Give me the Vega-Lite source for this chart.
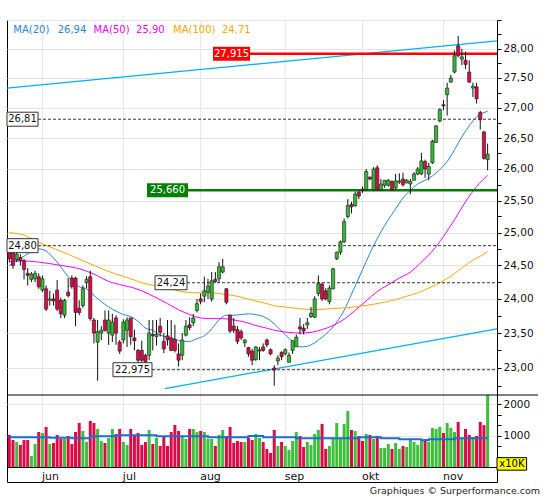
{
"$schema":"https://vega.github.io/schema/vega-lite/v6.json",
"width":490,"height":462,
"autosize":{"type":"none"},
"padding":{"left":7,"top":20,"right":48,"bottom":18},
"background":"#ffffff",
"config":{"view":{"stroke":"#000000","strokeWidth":1,"fill":"#ffffff"},"font":"DejaVu Sans","text":{"font":"DejaVu Sans"},"axis":{"labelFont":"DejaVu Sans","labelColor":"#111111","tickColor":"#000000","domain":false},"scale":{"continuousPadding":0}},
"datasets":{
"candles":[
{"i":0,"o":24.72,"h":24.8,"l":24.55,"c":24.6,"v":1016},
{"i":1,"o":24.69,"h":24.75,"l":24.45,"c":24.5,"v":857},
{"i":2,"o":24.59,"h":24.72,"l":24.55,"c":24.67,"v":794},
{"i":3,"o":24.62,"h":24.67,"l":24.5,"c":24.57,"v":699},
{"i":4,"o":24.57,"h":24.6,"l":24.29,"c":24.44,"v":857},
{"i":5,"o":24.38,"h":24.46,"l":24.2,"c":24.35,"v":857},
{"i":6,"o":24.29,"h":24.4,"l":24.25,"c":24.37,"v":349},
{"i":7,"o":24.3,"h":24.42,"l":24.25,"c":24.38,"v":730},
{"i":8,"o":24.33,"h":24.38,"l":24.15,"c":24.18,"v":1111},
{"i":9,"o":24.13,"h":24.35,"l":24.1,"c":24.3,"v":1080},
{"i":10,"o":24.15,"h":24.2,"l":23.82,"c":23.85,"v":1270},
{"i":11,"o":23.98,"h":24.12,"l":23.9,"c":24.0,"v":730},
{"i":12,"o":24.0,"h":24.08,"l":23.9,"c":23.97,"v":762},
{"i":13,"o":24.13,"h":24.28,"l":23.82,"c":23.85,"v":1016},
{"i":14,"o":23.98,"h":24.02,"l":23.72,"c":23.78,"v":889},
{"i":15,"o":23.76,"h":24.0,"l":23.72,"c":23.98,"v":889},
{"i":16,"o":24.1,"h":24.31,"l":24.02,"c":24.05,"v":984},
{"i":17,"o":24.31,"h":24.35,"l":24.15,"c":24.18,"v":730},
{"i":18,"o":24.31,"h":24.33,"l":23.6,"c":23.8,"v":1111},
{"i":19,"o":23.86,"h":23.98,"l":23.76,"c":23.8,"v":1397},
{"i":20,"o":23.9,"h":24.2,"l":23.87,"c":24.15,"v":1143},
{"i":21,"o":24.24,"h":24.34,"l":24.16,"c":24.29,"v":794},
{"i":22,"o":24.33,"h":24.42,"l":23.68,"c":23.71,"v":1461},
{"i":23,"o":23.69,"h":23.72,"l":23.35,"c":23.5,"v":1397},
{"i":24,"o":23.37,"h":23.69,"l":22.82,"c":23.52,"v":1207},
{"i":25,"o":23.5,"h":23.6,"l":23.4,"c":23.54,"v":826},
{"i":26,"o":23.69,"h":23.83,"l":23.52,"c":23.54,"v":762},
{"i":27,"o":23.5,"h":23.83,"l":23.33,"c":23.69,"v":921},
{"i":28,"o":23.47,"h":23.78,"l":23.37,"c":23.66,"v":1207},
{"i":29,"o":23.72,"h":23.76,"l":23.33,"c":23.5,"v":1048},
{"i":30,"o":23.37,"h":23.4,"l":23.2,"c":23.24,"v":1207},
{"i":31,"o":23.4,"h":23.7,"l":23.35,"c":23.66,"v":794},
{"i":32,"o":23.54,"h":23.73,"l":23.3,"c":23.69,"v":699},
{"i":33,"o":23.72,"h":23.72,"l":23.33,"c":23.45,"v":1207},
{"i":34,"o":23.43,"h":23.55,"l":23.25,"c":23.39,"v":1016},
{"i":35,"o":23.25,"h":23.27,"l":23.08,"c":23.11,"v":1080},
{"i":36,"o":23.25,"h":23.39,"l":23.08,"c":23.11,"v":699},
{"i":37,"o":23.18,"h":23.2,"l":23.05,"c":23.09,"v":794},
{"i":38,"o":23.18,"h":23.69,"l":23.11,"c":23.5,"v":1175},
{"i":39,"o":23.48,"h":23.69,"l":23.25,"c":23.46,"v":730},
{"i":40,"o":23.45,"h":23.69,"l":23.32,"c":23.48,"v":921},
{"i":41,"o":23.6,"h":23.72,"l":23.45,"c":23.51,"v":667},
{"i":42,"o":23.38,"h":23.5,"l":23.21,"c":23.27,"v":984},
{"i":43,"o":23.46,"h":23.69,"l":23.32,"c":23.4,"v":667},
{"i":44,"o":23.43,"h":23.69,"l":23.24,"c":23.25,"v":1111},
{"i":45,"o":23.41,"h":23.62,"l":23.22,"c":23.25,"v":1334},
{"i":46,"o":23.2,"h":23.35,"l":23.02,"c":23.11,"v":1143},
{"i":47,"o":23.18,"h":23.5,"l":23.11,"c":23.4,"v":984},
{"i":48,"o":23.47,"h":23.69,"l":23.45,"c":23.6,"v":889},
{"i":49,"o":23.62,"h":23.73,"l":23.54,"c":23.58,"v":1207},
{"i":50,"o":23.65,"h":23.78,"l":23.6,"c":23.72,"v":1207},
{"i":51,"o":23.83,"h":24.0,"l":23.8,"c":23.93,"v":1111},
{"i":52,"o":24.0,"h":24.08,"l":23.92,"c":23.96,"v":1143},
{"i":53,"o":24.04,"h":24.33,"l":23.95,"c":24.12,"v":1111},
{"i":54,"o":24.1,"h":24.3,"l":24.0,"c":24.19,"v":889},
{"i":55,"o":24.0,"h":24.4,"l":23.96,"c":24.27,"v":889},
{"i":56,"o":24.29,"h":24.4,"l":24.24,"c":24.26,"v":667},
{"i":57,"o":24.3,"h":24.55,"l":24.24,"c":24.48,"v":1016},
{"i":58,"o":24.4,"h":24.6,"l":24.38,"c":24.48,"v":1175},
{"i":59,"o":24.15,"h":24.16,"l":23.92,"c":23.95,"v":984},
{"i":60,"o":23.76,"h":23.77,"l":23.5,"c":23.53,"v":1270},
{"i":61,"o":23.6,"h":23.72,"l":23.5,"c":23.54,"v":762},
{"i":62,"o":23.55,"h":23.6,"l":23.34,"c":23.38,"v":826},
{"i":63,"o":23.52,"h":23.55,"l":23.4,"c":23.43,"v":794},
{"i":64,"o":23.36,"h":23.41,"l":23.3,"c":23.4,"v":794},
{"i":65,"o":23.29,"h":23.3,"l":23.16,"c":23.2,"v":921},
{"i":66,"o":23.24,"h":23.27,"l":23.04,"c":23.11,"v":857},
{"i":67,"o":23.12,"h":23.31,"l":23.1,"c":23.3,"v":1048},
{"i":68,"o":23.24,"h":23.3,"l":23.11,"c":23.26,"v":921},
{"i":69,"o":23.3,"h":23.35,"l":23.23,"c":23.25,"v":794},
{"i":70,"o":23.4,"h":23.42,"l":23.3,"c":23.33,"v":572},
{"i":71,"o":23.26,"h":23.28,"l":23.18,"c":23.2,"v":445},
{"i":72,"o":23.0,"h":23.04,"l":22.75,"c":22.97,"v":1175},
{"i":73,"o":23.1,"h":23.18,"l":23.04,"c":23.14,"v":667},
{"i":74,"o":23.22,"h":23.24,"l":23.11,"c":23.16,"v":794},
{"i":75,"o":23.2,"h":23.28,"l":23.18,"c":23.26,"v":667},
{"i":76,"o":23.08,"h":23.22,"l":23.08,"c":23.18,"v":540},
{"i":77,"o":23.25,"h":23.39,"l":23.2,"c":23.39,"v":826},
{"i":78,"o":23.3,"h":23.48,"l":23.3,"c":23.44,"v":1111},
{"i":79,"o":23.59,"h":23.72,"l":23.48,"c":23.56,"v":984},
{"i":80,"o":23.57,"h":23.63,"l":23.48,"c":23.53,"v":635},
{"i":81,"o":23.62,"h":23.72,"l":23.56,"c":23.65,"v":794},
{"i":82,"o":23.74,"h":23.88,"l":23.72,"c":23.79,"v":699},
{"i":83,"o":23.73,"h":24.04,"l":23.72,"c":24.0,"v":1048},
{"i":84,"o":24.08,"h":24.35,"l":24.04,"c":24.23,"v":1175},
{"i":85,"o":24.22,"h":24.24,"l":23.97,"c":24.0,"v":1365},
{"i":86,"o":24.12,"h":24.16,"l":23.98,"c":24.0,"v":572},
{"i":87,"o":23.96,"h":24.2,"l":23.92,"c":24.16,"v":667},
{"i":88,"o":24.15,"h":24.46,"l":24.14,"c":24.45,"v":889},
{"i":89,"o":24.6,"h":24.71,"l":24.58,"c":24.7,"v":1397},
{"i":90,"o":24.7,"h":24.88,"l":24.66,"c":24.86,"v":921},
{"i":91,"o":24.86,"h":25.22,"l":24.84,"c":25.17,"v":1365},
{"i":92,"o":25.25,"h":25.52,"l":25.22,"c":25.42,"v":1778},
{"i":93,"o":25.44,"h":25.48,"l":25.3,"c":25.4,"v":1175},
{"i":94,"o":25.42,"h":25.64,"l":25.4,"c":25.6,"v":1143},
{"i":95,"o":25.63,"h":25.66,"l":25.52,"c":25.57,"v":984},
{"i":96,"o":25.68,"h":25.72,"l":25.62,"c":25.66,"v":826},
{"i":97,"o":25.67,"h":26.0,"l":25.65,"c":25.96,"v":1048},
{"i":98,"o":25.87,"h":25.88,"l":25.82,"c":25.84,"v":1016},
{"i":99,"o":25.67,"h":26.03,"l":25.65,"c":26.0,"v":889},
{"i":100,"o":26.02,"h":26.06,"l":25.66,"c":25.67,"v":984},
{"i":101,"o":25.67,"h":25.84,"l":25.65,"c":25.76,"v":603},
{"i":102,"o":25.74,"h":25.82,"l":25.7,"c":25.82,"v":603},
{"i":103,"o":25.74,"h":25.84,"l":25.72,"c":25.82,"v":730},
{"i":104,"o":25.8,"h":25.82,"l":25.65,"c":25.67,"v":572},
{"i":105,"o":25.7,"h":25.92,"l":25.67,"c":25.81,"v":762},
{"i":106,"o":25.79,"h":25.93,"l":25.76,"c":25.81,"v":572},
{"i":107,"o":25.84,"h":25.94,"l":25.72,"c":25.75,"v":667},
{"i":108,"o":25.78,"h":25.84,"l":25.77,"c":25.82,"v":635},
{"i":109,"o":25.76,"h":25.84,"l":25.6,"c":25.8,"v":889},
{"i":110,"o":25.82,"h":25.95,"l":25.82,"c":25.92,"v":794},
{"i":111,"o":25.92,"h":26.03,"l":25.9,"c":26.0,"v":699},
{"i":112,"o":25.92,"h":26.26,"l":25.9,"c":26.13,"v":826},
{"i":113,"o":26.12,"h":26.15,"l":25.86,"c":26.0,"v":889},
{"i":114,"o":25.92,"h":26.1,"l":25.82,"c":26.04,"v":794},
{"i":115,"o":26.1,"h":26.47,"l":26.08,"c":26.45,"v":1238},
{"i":116,"o":26.43,"h":26.71,"l":26.42,"c":26.7,"v":1207},
{"i":117,"o":26.78,"h":26.99,"l":26.76,"c":26.97,"v":1270},
{"i":118,"o":27.05,"h":27.13,"l":26.96,"c":27.03,"v":1080},
{"i":119,"o":27.22,"h":27.42,"l":26.87,"c":27.33,"v":1397},
{"i":120,"o":27.43,"h":27.55,"l":27.42,"c":27.5,"v":1238},
{"i":121,"o":27.6,"h":27.97,"l":27.58,"c":27.88,"v":1111},
{"i":122,"o":28.05,"h":28.22,"l":27.85,"c":27.88,"v":1429},
{"i":123,"o":27.82,"h":28.0,"l":27.72,"c":27.86,"v":921},
{"i":124,"o":27.8,"h":27.95,"l":27.65,"c":27.73,"v":1207},
{"i":125,"o":27.6,"h":27.8,"l":27.42,"c":27.43,"v":1016},
{"i":126,"o":27.33,"h":27.42,"l":27.18,"c":27.36,"v":952},
{"i":127,"o":27.35,"h":27.42,"l":27.07,"c":27.15,"v":984},
{"i":128,"o":26.92,"h":26.95,"l":26.64,"c":26.8,"v":1429},
{"i":129,"o":26.6,"h":26.62,"l":26.15,"c":26.17,"v":1330},
{"i":130,"o":26.15,"h":26.41,"l":25.98,"c":26.24,"v":2286}
],
"ma":[
{"i":0,"v":24.5,"ma":"MA20"},{"i":2,"v":24.58,"ma":"MA20"},{"i":4,"v":24.64,"ma":"MA20"},{"i":6,"v":24.71,"ma":"MA20"},{"i":8,"v":24.75,"ma":"MA20"},{"i":10,"v":24.72,"ma":"MA20"},{"i":11,"v":24.67,"ma":"MA20"},{"i":13,"v":24.55,"ma":"MA20"},{"i":15,"v":24.4,"ma":"MA20"},{"i":17,"v":24.27,"ma":"MA20"},{"i":19,"v":24.18,"ma":"MA20"},{"i":21,"v":24.15,"ma":"MA20"},{"i":23,"v":24.05,"ma":"MA20"},{"i":25,"v":23.96,"ma":"MA20"},{"i":27,"v":23.88,"ma":"MA20"},{"i":29,"v":23.82,"ma":"MA20"},{"i":31,"v":23.77,"ma":"MA20"},{"i":33,"v":23.74,"ma":"MA20"},{"i":35,"v":23.67,"ma":"MA20"},{"i":37,"v":23.57,"ma":"MA20"},{"i":39,"v":23.54,"ma":"MA20"},{"i":41,"v":23.47,"ma":"MA20"},{"i":43,"v":23.44,"ma":"MA20"},{"i":45,"v":23.41,"ma":"MA20"},{"i":47,"v":23.38,"ma":"MA20"},{"i":49,"v":23.38,"ma":"MA20"},{"i":51,"v":23.42,"ma":"MA20"},{"i":53,"v":23.46,"ma":"MA20"},{"i":55,"v":23.56,"ma":"MA20"},{"i":57,"v":23.69,"ma":"MA20"},{"i":59,"v":23.76,"ma":"MA20"},{"i":61,"v":23.76,"ma":"MA20"},{"i":63,"v":23.77,"ma":"MA20"},{"i":65,"v":23.78,"ma":"MA20"},{"i":67,"v":23.77,"ma":"MA20"},{"i":69,"v":23.74,"ma":"MA20"},{"i":71,"v":23.68,"ma":"MA20"},{"i":73,"v":23.58,"ma":"MA20"},{"i":75,"v":23.48,"ma":"MA20"},{"i":77,"v":23.37,"ma":"MA20"},{"i":79,"v":23.3,"ma":"MA20"},{"i":81,"v":23.31,"ma":"MA20"},{"i":83,"v":23.36,"ma":"MA20"},{"i":85,"v":23.44,"ma":"MA20"},{"i":87,"v":23.53,"ma":"MA20"},{"i":89,"v":23.66,"ma":"MA20"},{"i":91,"v":23.83,"ma":"MA20"},{"i":93,"v":24.07,"ma":"MA20"},{"i":95,"v":24.31,"ma":"MA20"},{"i":97,"v":24.56,"ma":"MA20"},{"i":99,"v":24.8,"ma":"MA20"},{"i":101,"v":25.01,"ma":"MA20"},{"i":103,"v":25.2,"ma":"MA20"},{"i":105,"v":25.37,"ma":"MA20"},{"i":107,"v":25.54,"ma":"MA20"},{"i":109,"v":25.66,"ma":"MA20"},{"i":111,"v":25.76,"ma":"MA20"},{"i":113,"v":25.82,"ma":"MA20"},{"i":115,"v":25.89,"ma":"MA20"},{"i":117,"v":25.99,"ma":"MA20"},{"i":119,"v":26.12,"ma":"MA20"},{"i":121,"v":26.31,"ma":"MA20"},{"i":123,"v":26.52,"ma":"MA20"},{"i":125,"v":26.7,"ma":"MA20"},{"i":127,"v":26.85,"ma":"MA20"},{"i":129,"v":26.92,"ma":"MA20"},{"i":130,"v":26.94,"ma":"MA20"},
{"i":0,"v":24.55,"ma":"MA50"},{"i":3,"v":24.57,"ma":"MA50"},{"i":8,"v":24.55,"ma":"MA50"},{"i":14,"v":24.5,"ma":"MA50"},{"i":19,"v":24.45,"ma":"MA50"},{"i":23,"v":24.37,"ma":"MA50"},{"i":27,"v":24.26,"ma":"MA50"},{"i":31,"v":24.2,"ma":"MA50"},{"i":34,"v":24.16,"ma":"MA50"},{"i":38,"v":24.07,"ma":"MA50"},{"i":43,"v":23.93,"ma":"MA50"},{"i":46,"v":23.84,"ma":"MA50"},{"i":49,"v":23.77,"ma":"MA50"},{"i":52,"v":23.72,"ma":"MA50"},{"i":55,"v":23.71,"ma":"MA50"},{"i":58,"v":23.71,"ma":"MA50"},{"i":61,"v":23.69,"ma":"MA50"},{"i":64,"v":23.66,"ma":"MA50"},{"i":67,"v":23.61,"ma":"MA50"},{"i":70,"v":23.57,"ma":"MA50"},{"i":73,"v":23.53,"ma":"MA50"},{"i":76,"v":23.51,"ma":"MA50"},{"i":79,"v":23.5,"ma":"MA50"},{"i":82,"v":23.51,"ma":"MA50"},{"i":85,"v":23.55,"ma":"MA50"},{"i":88,"v":23.61,"ma":"MA50"},{"i":91,"v":23.7,"ma":"MA50"},{"i":94,"v":23.83,"ma":"MA50"},{"i":97,"v":23.97,"ma":"MA50"},{"i":100,"v":24.11,"ma":"MA50"},{"i":103,"v":24.21,"ma":"MA50"},{"i":106,"v":24.31,"ma":"MA50"},{"i":109,"v":24.4,"ma":"MA50"},{"i":112,"v":24.55,"ma":"MA50"},{"i":115,"v":24.72,"ma":"MA50"},{"i":118,"v":24.94,"ma":"MA50"},{"i":121,"v":25.2,"ma":"MA50"},{"i":124,"v":25.48,"ma":"MA50"},{"i":127,"v":25.72,"ma":"MA50"},{"i":130,"v":25.9,"ma":"MA50"},
{"i":0,"v":25.0,"ma":"MA100"},{"i":4,"v":24.96,"ma":"MA100"},{"i":8,"v":24.85,"ma":"MA100"},{"i":12,"v":24.76,"ma":"MA100"},{"i":16,"v":24.67,"ma":"MA100"},{"i":20,"v":24.57,"ma":"MA100"},{"i":23,"v":24.5,"ma":"MA100"},{"i":26,"v":24.43,"ma":"MA100"},{"i":29,"v":24.37,"ma":"MA100"},{"i":33,"v":24.3,"ma":"MA100"},{"i":36,"v":24.24,"ma":"MA100"},{"i":40,"v":24.19,"ma":"MA100"},{"i":43,"v":24.16,"ma":"MA100"},{"i":48,"v":24.1,"ma":"MA100"},{"i":52,"v":24.09,"ma":"MA100"},{"i":55,"v":24.09,"ma":"MA100"},{"i":58,"v":24.07,"ma":"MA100"},{"i":61,"v":24.05,"ma":"MA100"},{"i":64,"v":24.01,"ma":"MA100"},{"i":67,"v":23.97,"ma":"MA100"},{"i":70,"v":23.93,"ma":"MA100"},{"i":72,"v":23.9,"ma":"MA100"},{"i":75,"v":23.88,"ma":"MA100"},{"i":78,"v":23.86,"ma":"MA100"},{"i":83,"v":23.84,"ma":"MA100"},{"i":88,"v":23.86,"ma":"MA100"},{"i":92,"v":23.87,"ma":"MA100"},{"i":95,"v":23.89,"ma":"MA100"},{"i":99,"v":23.92,"ma":"MA100"},{"i":102,"v":23.95,"ma":"MA100"},{"i":105,"v":23.99,"ma":"MA100"},{"i":108,"v":24.04,"ma":"MA100"},{"i":111,"v":24.09,"ma":"MA100"},{"i":114,"v":24.16,"ma":"MA100"},{"i":117,"v":24.24,"ma":"MA100"},{"i":120,"v":24.34,"ma":"MA100"},{"i":123,"v":24.46,"ma":"MA100"},{"i":126,"v":24.58,"ma":"MA100"},{"i":128,"v":24.64,"ma":"MA100"},{"i":130,"v":24.71,"ma":"MA100"}
],
"vma":[{"i":0,"v":942},{"i":11,"v":931},{"i":17,"v":910},{"i":22,"v":974},{"i":29,"v":1005},{"i":40,"v":974},{"i":54,"v":942},{"i":65,"v":984},{"i":69,"v":942},{"i":78,"v":910},{"i":95,"v":942},{"i":101,"v":910},{"i":106,"v":878},{"i":112,"v":847},{"i":114,"v":878},{"i":121,"v":910},{"i":130,"v":910}],
"months":[{"i":9},{"i":31},{"i":52},{"i":75},{"i":96},{"i":118}],
"trends":[{"t":"up","i":-0.63,"p":27.33},{"t":"up","i":132.55,"p":28.135},{"t":"low","i":42.3,"p":22.71},{"t":"low","i":132.55,"p":23.56}],
"levels":[{"level":26.81,"label":"26,81","kind":"A"},{"level":24.8,"label":"24,80","kind":"A"},{"level":24.24,"label":"24,24","kind":"B"},{"level":22.975,"label":"22,975","kind":"C"},{"level":25.66,"label":"25,660","kind":"D"},{"level":27.915,"label":"27,915","kind":"E"}]
},
"layer":[
{"layer":[
{"data":{"name":"months"},"mark":{"type":"rule","color":"#e6e6e6","strokeWidth":1},"encoding":{"x":{"field":"i","type":"quantitative","title":null,"scale":{"domain":[-0.63,132.55],"nice":false,"zero":false,"padding":0},"axis":{"orient":"bottom","offset":-15,"values":[9,31,52,75,96,118],"labelExpr":"datum.value==9?'jun':datum.value==31?'jul':datum.value==52?'aug':datum.value==75?'sep':datum.value==96?'okt':'nov'","labelAlign":"left","labelOffset":-1,"labelPadding":3,"labelBaseline":"top","ticks":false,"tickSize":0,"grid":false,"domain":true,"domainColor":"#000000","labelFontSize":11,"labelColor":"#111111","labelOverlap":false,"labelFlush":false,"title":null}},"y":{"datum":28.5,"scale":{"type":"log","domain":[22.62,28.5],"range":[375,0],"nice":false,"padding":0}},"y2":{"datum":22.62}}},
{"data":{"name":"trends"},"mark":{"type":"line","color":"#00B2F0","strokeWidth":1.3},"encoding":{"x":{"field":"i","type":"quantitative","title":null,"scale":{"domain":[-0.63,132.55],"nice":false,"zero":false,"padding":0}},"y":{"field":"p","type":"quantitative","scale":{"type":"log","domain":[22.62,28.5],"range":[375,0],"nice":false,"padding":0},"axis":{"orient":"right","title":null,"values":[22.75,23,23.25,23.5,23.75,24,24.25,24.5,24.75,25,25.25,25.5,25.75,26,26.25,26.5,26.75,27,27.25,27.5,27.75,28,28.25,28.5],"labelExpr":"(datum.value*4)%2==0 && datum.value<28.4 ? replace(format(datum.value,'.2f'),'.',',') : ''","grid":true,"gridColor":"#e4e4e4","gridOpacity":{"condition":{"test":"(datum.value*4)%2==0","value":1},"value":0},"tickSize":4,"tickColor":"#000000","domain":false,"labelPadding":2,"labelFontSize":10.5,"labelColor":"#111111","labelOverlap":false,"labelFlush":false}},"detail":{"field":"t"}}},
{"data":{"name":"ma"},"mark":{"type":"line","strokeWidth":1,"interpolate":"monotone"},"encoding":{"x":{"field":"i","type":"quantitative","title":null,"scale":{"domain":[-0.63,132.55],"nice":false,"zero":false,"padding":0}},"y":{"field":"v","type":"quantitative","scale":{"type":"log","domain":[22.62,28.5],"range":[375,0],"nice":false,"padding":0}},"color":{"field":"ma","type":"nominal","legend":null,"scale":{"domain":["MA20","MA50","MA100"],"range":["#2A84DA","#FF00FF","#FFA500"]}}}},
{"data":{"name":"levels"},"transform":[{"filter":"datum.kind=='A'"}],"mark":{"type":"rule","color":"#333333","strokeDash":[3,2],"strokeWidth":1},"encoding":{"x":{"datum":7.8},"x2":{"datum":132.55},"y":{"field":"level","type":"quantitative","scale":{"type":"log","domain":[22.62,28.5],"range":[375,0],"nice":false,"padding":0}}}},
{"data":{"name":"levels"},"transform":[{"filter":"datum.kind=='B'"}],"mark":{"type":"rule","color":"#333333","strokeDash":[3,2],"strokeWidth":1},"encoding":{"x":{"datum":48.3},"x2":{"datum":132.55},"y":{"field":"level","type":"quantitative","scale":{"type":"log","domain":[22.62,28.5],"range":[375,0],"nice":false,"padding":0}}}},
{"data":{"name":"levels"},"transform":[{"filter":"datum.kind=='C'"}],"mark":{"type":"rule","color":"#333333","strokeDash":[3,2],"strokeWidth":1},"encoding":{"x":{"datum":38.78},"x2":{"datum":132.55},"y":{"field":"level","type":"quantitative","scale":{"type":"log","domain":[22.62,28.5],"range":[375,0],"nice":false,"padding":0}}}},
{"data":{"name":"levels"},"transform":[{"filter":"datum.kind=='D'"}],"mark":{"type":"rule","color":"#008000","strokeWidth":2.5},"encoding":{"x":{"datum":48.57},"x2":{"datum":132.55},"y":{"field":"level","type":"quantitative","scale":{"type":"log","domain":[22.62,28.5],"range":[375,0],"nice":false,"padding":0}}}},
{"data":{"name":"levels"},"transform":[{"filter":"datum.kind=='E'"}],"mark":{"type":"rule","color":"#FF0000","strokeWidth":2.5},"encoding":{"x":{"datum":65.42},"x2":{"datum":132.55},"y":{"field":"level","type":"quantitative","scale":{"type":"log","domain":[22.62,28.5],"range":[375,0],"nice":false,"padding":0}}}},
{"data":{"name":"candles"},"mark":{"type":"rule","color":"#111111","strokeWidth":1},"encoding":{"x":{"field":"i","type":"quantitative","title":null,"scale":{"domain":[-0.63,132.55],"nice":false,"zero":false,"padding":0}},"y":{"field":"l","type":"quantitative","scale":{"type":"log","domain":[22.62,28.5],"range":[375,0],"nice":false,"padding":0}},"y2":{"field":"h"}}},
{"data":{"name":"candles"},"mark":{"type":"bar","width":3.2,"stroke":"#1a1a1a","strokeWidth":0.6},"encoding":{"x":{"field":"i","type":"quantitative","title":null,"scale":{"domain":[-0.63,132.55],"nice":false,"zero":false,"padding":0}},"y":{"field":"o","type":"quantitative","scale":{"type":"log","domain":[22.62,28.5],"range":[375,0],"nice":false,"padding":0}},"y2":{"field":"c"},"color":{"condition":{"test":"datum.c>=datum.o","value":"#36B936"},"value":"#DC0A46"}}},
{"data":{"name":"levels"},"transform":[{"filter":"datum.kind=='A'"}],"mark":{"type":"bar","orient":"horizontal","height":14,"fill":"#ffffff","stroke":"#333333","strokeWidth":1},"encoding":{"x":{"datum":-0.63},"x2":{"datum":7.8},"y":{"field":"level","type":"quantitative","scale":{"type":"log","domain":[22.62,28.5],"range":[375,0],"nice":false,"padding":0}}}},
{"data":{"name":"levels"},"transform":[{"filter":"datum.kind=='B'"}],"mark":{"type":"bar","orient":"horizontal","height":14,"fill":"#ffffff","stroke":"#333333","strokeWidth":1},"encoding":{"x":{"datum":39.6},"x2":{"datum":48.3},"y":{"field":"level","type":"quantitative","scale":{"type":"log","domain":[22.62,28.5],"range":[375,0],"nice":false,"padding":0}}}},
{"data":{"name":"levels"},"transform":[{"filter":"datum.kind=='C'"}],"mark":{"type":"bar","orient":"horizontal","height":14,"fill":"#ffffff","stroke":"#333333","strokeWidth":1},"encoding":{"x":{"datum":28.18},"x2":{"datum":38.78},"y":{"field":"level","type":"quantitative","scale":{"type":"log","domain":[22.62,28.5],"range":[375,0],"nice":false,"padding":0}}}},
{"data":{"name":"levels"},"transform":[{"filter":"datum.kind=='D'"}],"mark":{"type":"bar","orient":"horizontal","height":14,"fill":"#008000"},"encoding":{"x":{"datum":37.42},"x2":{"datum":48.57},"y":{"field":"level","type":"quantitative","scale":{"type":"log","domain":[22.62,28.5],"range":[375,0],"nice":false,"padding":0}}}},
{"data":{"name":"levels"},"transform":[{"filter":"datum.kind=='E'"}],"mark":{"type":"bar","orient":"horizontal","height":14,"fill":"#FF0000"},"encoding":{"x":{"datum":55.36},"x2":{"datum":65.42},"y":{"field":"level","type":"quantitative","scale":{"type":"log","domain":[22.62,28.5],"range":[375,0],"nice":false,"padding":0}}}},
{"data":{"name":"levels"},"transform":[{"filter":"datum.kind=='A'"}],"mark":{"type":"text","fontSize":10,"color":"#111111"},"encoding":{"x":{"datum":3.58},"y":{"field":"level","type":"quantitative","scale":{"type":"log","domain":[22.62,28.5],"range":[375,0],"nice":false,"padding":0}},"text":{"field":"label"}}},
{"data":{"name":"levels"},"transform":[{"filter":"datum.kind=='B'"}],"mark":{"type":"text","fontSize":10,"color":"#111111"},"encoding":{"x":{"datum":43.95},"y":{"field":"level","type":"quantitative","scale":{"type":"log","domain":[22.62,28.5],"range":[375,0],"nice":false,"padding":0}},"text":{"field":"label"}}},
{"data":{"name":"levels"},"transform":[{"filter":"datum.kind=='C'"}],"mark":{"type":"text","fontSize":10,"color":"#111111"},"encoding":{"x":{"datum":33.48},"y":{"field":"level","type":"quantitative","scale":{"type":"log","domain":[22.62,28.5],"range":[375,0],"nice":false,"padding":0}},"text":{"field":"label"}}},
{"data":{"name":"levels"},"transform":[{"filter":"datum.kind=='D'"}],"mark":{"type":"text","fontSize":10,"color":"#ffffff"},"encoding":{"x":{"datum":43.0},"y":{"field":"level","type":"quantitative","scale":{"type":"log","domain":[22.62,28.5],"range":[375,0],"nice":false,"padding":0}},"text":{"field":"label"}}},
{"data":{"name":"levels"},"transform":[{"filter":"datum.kind=='E'"}],"mark":{"type":"text","fontSize":10,"color":"#ffffff"},"encoding":{"x":{"datum":60.39},"y":{"field":"level","type":"quantitative","scale":{"type":"log","domain":[22.62,28.5],"range":[375,0],"nice":false,"padding":0}},"text":{"field":"label"}}},
{"data":{"values":[{"name":"MA(20)","val":"26,94"}]},"layer":[
{"mark":{"type":"text","align":"left","baseline":"middle","fontSize":10,"color":"#2A84DA"},"encoding":{"x":{"datum":1.08},"y":{"datum":28.33,"scale":{"type":"log","domain":[22.62,28.5],"range":[375,0],"nice":false,"padding":0}},"text":{"field":"name"}}},
{"mark":{"type":"text","align":"left","baseline":"middle","fontSize":10,"color":"#2A84DA"},"encoding":{"x":{"datum":13.15},"y":{"datum":28.33,"scale":{"type":"log","domain":[22.62,28.5],"range":[375,0],"nice":false,"padding":0}},"text":{"field":"val"}}}]},
{"data":{"values":[{"name":"MA(50)","val":"25,90"}]},"layer":[
{"mark":{"type":"text","align":"left","baseline":"middle","fontSize":10,"color":"#FF00FF"},"encoding":{"x":{"datum":22.91},"y":{"datum":28.33,"scale":{"type":"log","domain":[22.62,28.5],"range":[375,0],"nice":false,"padding":0}},"text":{"field":"name"}}},
{"mark":{"type":"text","align":"left","baseline":"middle","fontSize":10,"color":"#FF00FF"},"encoding":{"x":{"datum":34.44},"y":{"datum":28.33,"scale":{"type":"log","domain":[22.62,28.5],"range":[375,0],"nice":false,"padding":0}},"text":{"field":"val"}}}]},
{"data":{"values":[{"name":"MA(100)","val":"24,71"}]},"layer":[
{"mark":{"type":"text","align":"left","baseline":"middle","fontSize":10,"color":"#FFA500"},"encoding":{"x":{"datum":44.5},"y":{"datum":28.33,"scale":{"type":"log","domain":[22.62,28.5],"range":[375,0],"nice":false,"padding":0}},"text":{"field":"name"}}},
{"mark":{"type":"text","align":"left","baseline":"middle","fontSize":10,"color":"#FFA500"},"encoding":{"x":{"datum":57.8},"y":{"datum":28.33,"scale":{"type":"log","domain":[22.62,28.5],"range":[375,0],"nice":false,"padding":0}},"text":{"field":"val"}}}]}
]},
{"layer":[
{"data":{"name":"months"},"mark":{"type":"rule","color":"#e6e6e6","strokeWidth":1},"encoding":{"x":{"field":"i","type":"quantitative","title":null,"scale":{"domain":[-0.63,132.55],"nice":false,"zero":false,"padding":0}},"y":{"datum":2286,"scale":{"domain":[0,2286],"range":[447,375],"nice":false,"padding":0}},"y2":{"datum":0}}},
{"data":{"name":"candles"},"mark":{"type":"bar","width":3},"encoding":{"x":{"field":"i","type":"quantitative","title":null,"scale":{"domain":[-0.63,132.55],"nice":false,"zero":false,"padding":0}},"y":{"field":"v","type":"quantitative","scale":{"domain":[0,2286],"range":[447,375],"nice":false,"padding":0},"axis":{"orient":"right","title":null,"values":[333.33,666.67,1000,1333.33,1666.67,2000],"labelExpr":"(datum.value==1000||datum.value==2000)?format(datum.value,'d'):''","grid":true,"gridColor":"#e4e4e4","gridOpacity":{"condition":{"test":"datum.value==1000||datum.value==2000","value":1},"value":0},"tickSize":4,"tickColor":"#000000","domain":false,"labelPadding":2,"labelFontSize":10.5,"labelColor":"#111111","labelOverlap":false,"labelFlush":false}},"color":{"condition":{"test":"datum.c>=datum.o","value":"#3DBF3D"},"value":"#DC0A46"}}},
{"data":{"name":"vma"},"mark":{"type":"line","color":"#1C6FCF","strokeWidth":2,"interpolate":"step-after"},"encoding":{"x":{"field":"i","type":"quantitative","title":null,"scale":{"domain":[-0.63,132.55],"nice":false,"zero":false,"padding":0}},"y":{"field":"v","type":"quantitative","scale":{"domain":[0,2286],"range":[447,375],"nice":false,"padding":0}}}},
{"data":{"values":[{"k":"sep"}]},"mark":{"type":"rule","color":"#000000","strokeWidth":1},"encoding":{"x":{"datum":-0.63},"x2":{"datum":143.7},"y":{"datum":2286,"scale":{"domain":[0,2286],"range":[447,375],"nice":false,"padding":0}}}},
{"data":{"values":[{"label":"x10K"}]},"mark":{"type":"bar","orient":"horizontal","height":12.5,"fill":"#FFFF00","stroke":"#000000","strokeWidth":1},"encoding":{"x":{"datum":132.55},"x2":{"datum":140.6},"y":{"datum":98,"scale":{"domain":[0,2286],"range":[447,375],"nice":false,"padding":0}}}},
{"data":{"values":[{"label":"x10K"}]},"mark":{"type":"text","fontSize":10,"color":"#000000"},"encoding":{"x":{"datum":136.6},"y":{"datum":98,"scale":{"domain":[0,2286],"range":[447,375],"nice":false,"padding":0}},"text":{"field":"label"}}},
{"data":{"values":[{"label":"Graphiques © Surperformance.com"}]},"mark":{"type":"text","fontSize":9.5,"color":"#222222","align":"right","baseline":"middle"},"encoding":{"x":{"datum":144.25},"y":{"datum":-762,"scale":{"domain":[0,2286],"range":[447,375],"nice":false,"padding":0}},"text":{"field":"label"}}}
]}
],
"resolve":{"scale":{"y":"independent"},"axis":{"y":"independent"}}
}
